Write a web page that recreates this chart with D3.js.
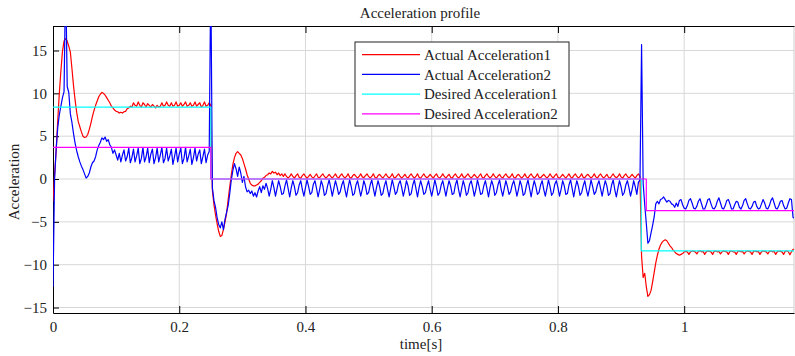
<!DOCTYPE html>
<html>
<head>
<meta charset="utf-8">
<script src="https://d3js.org/d3.v7.min.js"></script>
<style>
  body { margin: 0; background: #fff; }
  text { font-family: 'Liberation Serif', 'Times New Roman', serif; font-size: 15px; fill: #222; }
  .grid line { stroke: #d8d8d8; stroke-width: 1; }
  .axis path, .axis line { stroke: #000; }
</style>
</head>
<body>
<script>
// sample step of the measured curves (s); every row below covers 0.05 s
var dt = 0.0025;

var xTicks = [0, 0.2, 0.4, 0.6, 0.8, 1];
var yTicks = [-15, -10, -5, 0, 5, 10, 15];
var names = ["Actual Acceleration1", "Actual Acceleration2", "Desired Acceleration1", "Desired Acceleration2"];

// Actual Acceleration1 (red)
var actual1 = [
  [-2.6, 0.5, 3.3, 6.8, 10.0, 12.6, 14.9, 16.1, 16.4, 16.1, 15.5, 14.8, 12.9, 10.9, 9.2, 7.8, 6.7, 6.1, 5.5, 5.0],
  [4.85, 4.9, 5.2, 5.8, 6.5, 7.3, 8.0, 8.6, 9.1, 9.6, 9.9, 10.1, 10.0, 9.8, 9.5, 9.2, 8.9, 8.5, 8.3, 8.05],
  [7.9, 7.85, 7.7, 7.8, 7.7, 7.85, 7.9, 8.2, 8.3, 8.5, 8.4, 8.9, 8.6, 8.5, 9.0, 8.6, 8.4, 8.9, 8.7, 8.4],
  [8.8, 8.6, 8.4, 8.7, 8.5, 8.3, 8.6, 8.4, 8.5, 8.9, 8.5, 8.6, 9.0, 8.6, 8.5, 8.9, 8.5, 8.6, 9.0, 8.5],
  [8.6, 8.9, 8.5, 8.7, 9.0, 8.5, 8.6, 8.9, 8.5, 8.6, 9.0, 8.5, 8.7, 8.9, 8.4, 8.6, 9.0, 8.5, 8.6, 8.9],
  [8.6, -1.3, -3.0, -4.2, -5.2, -6.1, -6.7, -6.6, -5.9, -5.0, -4.0, -2.4, -0.9, 0.5, 1.7, 2.5, 3.0, 3.2, 3.0, 2.8],
  [2.4, 1.8, 1.2, 0.5, 0.0, -0.5, -0.7, -0.8, -0.8, -0.7, -0.6, -0.4, -0.2, 0.1, 0.2, 0.4, 0.5, 0.7, 0.6, 0.9],
  [0.7, 0.8, 0.5, 0.7, 0.4, 0.6, 0.3, 0.6, 0.3, 0.1, 0.3, 0.6, 0.3, 0.1, 0.4, 0.6, 0.2, 0.1, 0.4, 0.6],
  [0.3, 0.1, 0.3, 0.55, 0.25, 0.1, 0.35, 0.6, 0.2, 0.15, 0.4, 0.6, 0.3, 0.1, 0.3, 0.55, 0.3, 0.1, 0.35, 0.6],
  [0.25, 0.1, 0.4, 0.6, 0.3, 0.1, 0.3, 0.6, 0.2, 0.1, 0.4, 0.55, 0.3, 0.1, 0.3, 0.6, 0.25, 0.15, 0.4, 0.6],
  [0.3, 0.1, 0.3, 0.6, 0.2, 0.1, 0.4, 0.55, 0.3, 0.1, 0.35, 0.6, 0.3, 0.1, 0.3, 0.6, 0.2, 0.15, 0.4, 0.6],
  [0.3, 0.1, 0.3, 0.55, 0.25, 0.1, 0.4, 0.6, 0.3, 0.1, 0.3, 0.6, 0.2, 0.1, 0.35, 0.6, 0.3, 0.15, 0.3, 0.55],
  [0.3, 0.1, 0.4, 0.6, 0.25, 0.1, 0.3, 0.6, 0.3, 0.1, 0.35, 0.55, 0.2, 0.1, 0.4, 0.6, 0.3, 0.1, 0.3, 0.6],
  [0.25, 0.15, 0.4, 0.6, 0.3, 0.1, 0.3, 0.55, 0.3, 0.1, 0.35, 0.6, 0.2, 0.1, 0.4, 0.6, 0.3, 0.1, 0.3, 0.6],
  [0.3, 0.1, 0.35, 0.55, 0.25, 0.1, 0.4, 0.6, 0.3, 0.15, 0.3, 0.6, 0.2, 0.1, 0.4, 0.55, 0.3, 0.1, 0.3, 0.6],
  [0.25, 0.1, 0.4, 0.6, 0.3, 0.1, 0.3, 0.6, 0.2, 0.15, 0.35, 0.55, 0.3, 0.1, 0.3, 0.6, 0.3, 0.1, 0.4, 0.6],
  [0.2, 0.1, 0.3, 0.55, 0.3, 0.1, 0.35, 0.6, 0.25, 0.1, 0.4, 0.6, 0.3, 0.1, 0.3, 0.6, 0.2, 0.15, 0.4, 0.55],
  [0.3, 0.1, 0.3, 0.6, 0.25, 0.1, 0.4, 0.6, 0.3, 0.1, 0.3, 0.55, 0.2, 0.1, 0.35, 0.6, 0.3, 0.15, 0.3, 0.6],
  [0.25, 0.1, 0.4, 0.6, 0.3, 0.1, 0.3, 0.55, 0.3, 0.1, 0.4, 0.6, 0.3, -9.0, -11.5, -11.0, -12.6, -13.7, -13.5, -13.0],
  [-12.0, -10.9, -9.8, -8.9, -8.2, -7.7, -7.4, -7.2, -7.1, -7.2, -7.5, -7.8, -8.0, -8.3, -8.5, -8.7, -8.8, -8.9, -8.8, -8.7],
  [-8.5, -8.45, -8.5, -8.8, -8.5, -8.4, -8.45, -8.5, -8.75, -8.45, -8.4, -8.5, -8.45, -8.8, -8.5, -8.4, -8.45, -8.5, -8.8, -8.45],
  [-8.4, -8.5, -8.45, -8.75, -8.5, -8.4, -8.45, -8.5, -8.8, -8.45, -8.4, -8.5, -8.5, -8.8, -8.45, -8.4, -8.5, -8.45, -8.75, -8.5],
  [-8.4, -8.45, -8.5, -8.8, -8.45, -8.4, -8.5, -8.45, -8.8, -8.5, -8.4, -8.45, -8.5, -8.75, -8.45, -8.4, -8.5, -8.45, -8.8, -8.5],
  [-8.4, -8.45, -8.5, -8.8, -8.45, -8.4, -8.5, -8.85, -8.5, -8.2, -8.2]
];

// Actual Acceleration2 (blue)
var actual2 = [
  [-12.6, 0.0, 3.5, 6.0, 7.5, 8.5, 9.5, 10.2, 24, 10.8, 10.1, 7.6, 6.6, 5.3, 4.2, 3.3, 2.6, 2.0, 1.5, 1.1],
  [0.6, 0.1, 0.3, 0.7, 1.4, 1.9, 2.1, 2.6, 3.4, 3.9, 4.3, 4.8, 4.6, 4.9, 4.4, 4.6, 4.0, 3.7, 3.0, 3.4],
  [2.8, 2.2, 3.0, 2.0, 2.8, 3.4, 2.1, 2.6, 3.6, 1.9, 2.5, 3.5, 2.0, 2.7, 3.6, 1.8, 2.4, 3.7, 2.0, 2.6],
  [3.6, 1.9, 2.9, 3.5, 1.8, 2.5, 3.6, 2.0, 2.8, 3.7, 1.9, 2.4, 3.6, 2.1, 2.7, 3.5, 1.7, 2.6, 3.6, 2.0],
  [2.9, 3.6, 1.8, 2.4, 3.7, 2.0, 2.7, 3.5, 1.7, 2.5, 3.6, 2.1, 2.9, 3.4, 1.8, 2.6, 3.5, 1.9, 2.8, 3.2],
  [24, -1.0, -2.5, -3.3, -4.5, -5.3, -5.7, -5.0, -5.9, -4.7, -3.9, -3.1, -1.7, -0.1, 1.0, 1.8, 1.2, 0.3, 1.4, 0.7],
  [-0.4, 0.3, -0.9, -1.5, -1.3, -1.7, -1.4, -2.0, -1.6, -2.1, -1.4, -0.9, -1.6, -0.8, -1.2, -0.5, -1.1, -2.0, -1.2, -0.2],
  [-1.0, -2.0, -1.1, -0.2, -0.9, -1.8, -1.7, -0.8, -0.1, -1.1, -2.1, -1.0, -0.2, -0.9, -1.9, -1.6, -0.7, -0.2, -1.2, -2.0],
  [-1.0, -0.1, -0.9, -1.8, -1.6, -0.6, -0.2, -1.1, -2.1, -1.2, -0.2, -0.8, -1.9, -1.7, -0.8, -0.1, -1.0, -2.0, -1.1, -0.2],
  [-0.9, -1.8, -1.5, -0.7, -0.2, -1.2, -2.1, -1.0, -0.1, -0.9, -1.9, -1.7, -0.7, -0.2, -1.1, -2.0, -1.2, -0.2, -0.8, -1.8],
  [-1.6, -0.7, -0.1, -1.1, -2.0, -1.0, -0.2, -0.9, -1.9, -1.7, -0.8, -0.2, -1.2, -2.1, -1.1, -0.1, -0.9, -1.8, -1.5, -0.6],
  [-0.2, -1.0, -2.0, -1.2, -0.2, -0.8, -1.9, -1.7, -0.7, -0.1, -1.1, -2.1, -1.0, -0.2, -0.9, -1.8, -1.6, -0.8, -0.2, -1.2],
  [-2.0, -1.1, -0.1, -0.9, -1.9, -1.6, -0.7, -0.2, -1.1, -2.0, -1.0, -0.2, -0.8, -1.8, -1.7, -0.7, -0.1, -1.2, -2.1, -1.1],
  [-0.2, -0.9, -1.9, -1.6, -0.6, -0.2, -1.0, -2.0, -1.2, -0.1, -0.9, -1.8, -1.7, -0.8, -0.2, -1.1, -2.1, -1.0, -0.2, -0.8],
  [-1.9, -1.6, -0.7, -0.1, -1.2, -2.0, -1.1, -0.2, -0.9, -1.8, -1.5, -0.7, -0.2, -1.0, -2.0, -1.2, -0.2, -0.8, -1.9, -1.7],
  [-0.8, -0.1, -1.1, -2.1, -1.0, -0.2, -0.9, -1.8, -1.6, -0.7, -0.2, -1.2, -2.0, -1.1, -0.1, -0.9, -1.9, -1.6, -0.6, -0.2],
  [-1.0, -2.0, -1.2, -0.2, -0.8, -1.8, -1.7, -0.7, -0.1, -1.1, -2.1, -1.0, -0.2, -0.9, -1.9, -1.6, -0.8, -0.2, -1.2, -2.0],
  [-1.1, -0.1, -0.9, -1.8, -1.5, -0.7, -0.2, -1.1, -2.0, -1.0, -0.2, -0.8, -1.9, -1.7, -0.7, -0.1, -1.2, -2.1, -1.1, -0.2],
  [-0.9, -1.9, -1.6, -0.7, -0.2, -1.0, -2.0, -1.2, -0.2, -0.9, -1.8, -0.4, -0.1, 15.7, -0.5, -3.0, -5.2, -7.5, -7.2, -6.3],
  [-5.4, -4.4, -2.9, -2.6, -2.9, -2.4, -2.3, -2.1, -2.4, -2.7, -2.5, -2.6, -2.9, -3.0, -3.3, -2.8, -3.2, -2.5, -2.4, -3.0],
  [-3.4, -3.5, -3.1, -2.5, -2.3, -2.8, -3.4, -3.5, -3.2, -2.6, -2.3, -2.9, -3.5, -3.5, -3.0, -2.4, -2.3, -2.9, -3.4, -3.5],
  [-3.2, -2.6, -2.2, -2.8, -3.4, -3.5, -3.1, -2.5, -2.4, -2.9, -3.5, -3.5, -3.0, -2.6, -2.7, -3.3, -3.5, -3.1, -2.5, -2.3],
  [-2.9, -3.4, -3.5, -3.2, -2.7, -2.6, -3.2, -3.5, -3.4, -2.9, -2.4, -2.8, -3.4, -3.5, -3.1, -2.5, -2.2, -2.8, -3.4, -3.5],
  [-3.1, -2.6, -2.5, -3.1, -3.5, -3.4, -2.8, -2.3, -2.4, -4.5, -4.6]
];

// Desired profiles: step breakpoints
var desired1T = [0, 0.25, 0.932, 1.18];
var desired1 = [8.4, 0, -8.4, -8.4];
var desired2T = [0, 0.25, 0.94, 1.18];
var desired2 = [3.7, 0, -3.7, -3.7];

var colors = ["#ff0000", "#0000ff", "#00ffff", "#ff00ff"];

var width = 795, height = 356;
var pLeft = 53, pRight = 794, pTop = 26, pBottom = 313;

var x = d3.scaleLinear().domain([0, 1.174]).range([pLeft, pRight]);
var y = d3.scaleLinear().domain([-15.64, 17.86]).range([pBottom, pTop]);

var svg = d3.select("body").append("svg")
  .attr("width", width)
  .attr("height", height);

svg.append("defs").append("clipPath").attr("id", "plot")
  .append("rect").attr("x", pLeft).attr("y", pTop)
  .attr("width", pRight - pLeft).attr("height", pBottom - pTop);

// grid
var grid = svg.append("g").attr("class", "grid");
grid.selectAll("line.gx").data(xTicks.slice(1)).enter().append("line")
  .attr("x1", d => x(d)).attr("x2", d => x(d))
  .attr("y1", pTop).attr("y2", pBottom);
grid.selectAll("line.gy").data(yTicks).enter().append("line")
  .attr("x1", pLeft).attr("x2", pRight)
  .attr("y1", d => y(d)).attr("y2", d => y(d));

// right border (faint)
svg.append("line").attr("x1", pRight).attr("x2", pRight).attr("y1", pTop).attr("y2", pBottom)
  .attr("stroke", "#cfcfcf");

svg.append("g").attr("class", "axis")
  .attr("transform", "translate(0," + pTop + ")")
  .call(d3.axisTop(x).tickValues(xTicks).tickSize(-7).tickSizeOuter(0).tickFormat(""))
  .select("path").attr("stroke", "#333");

svg.append("g").attr("class", "axis")
  .attr("transform", "translate(0," + pBottom + ")")
  .call(d3.axisBottom(x).tickValues(xTicks).tickSize(-7).tickSizeOuter(0).tickPadding(8)
    .tickFormat(d3.format("~g")));

svg.append("g").attr("class", "axis")
  .attr("transform", "translate(" + pLeft + ",0)")
  .call(d3.axisLeft(y).tickValues(yTicks).tickSize(-6).tickSizeOuter(0).tickPadding(6)
    .tickFormat(d3.format("~g")));

svg.selectAll(".axis").attr("font-family", null).attr("font-size", null);

// lines
function flat(rows) {
  var out = [];
  rows.forEach((row, r) => row.forEach((v, j) => out.push([r * 0.05 + j * dt, v])));
  return out;
}
var line = d3.line().x(d => x(d[0])).y(d => y(d[1]));
var stepLine = d3.line().x(d => x(d[0])).y(d => y(d[1])).curve(d3.curveStepAfter);

var series = [
  { pts: flat(actual1), gen: line },
  { pts: flat(actual2), gen: line },
  { pts: desired1T.map((t, i) => [t, desired1[i]]), gen: stepLine },
  { pts: desired2T.map((t, i) => [t, desired2[i]]), gen: stepLine }
];

var plot = svg.append("g").attr("clip-path", "url(#plot)");
series.forEach((s, i) => {
  plot.append("path")
    .attr("d", s.gen(s.pts))
    .attr("fill", "none")
    .attr("stroke", colors[i])
    .attr("stroke-width", 1.2)
    .attr("stroke-linejoin", "round");
});

// legend
var lg = svg.append("g").attr("transform", "translate(355,42)");
lg.append("rect").attr("width", 214).attr("height", 84)
  .attr("fill", "#fff").attr("stroke", "#222").attr("stroke-width", 1);
names.forEach((n, i) => {
  var yy = 12.7 + i * 19.7;
  lg.append("line").attr("x1", 7).attr("x2", 65).attr("y1", yy).attr("y2", yy)
    .attr("stroke", colors[i]).attr("stroke-width", 1.2);
  lg.append("text").attr("x", 69).attr("y", yy).attr("dy", "0.35em").text(n);
});

// titles
svg.append("text").attr("x", 420).attr("y", 18).attr("text-anchor", "middle")
  .text("Acceleration profile");
svg.append("text").attr("x", 421).attr("y", 349).attr("text-anchor", "middle")
  .text("time[s]");
svg.append("text").attr("transform", "translate(19,182) rotate(-90)")
  .attr("text-anchor", "middle").text("Acceleration");
</script>
</body>
</html>
